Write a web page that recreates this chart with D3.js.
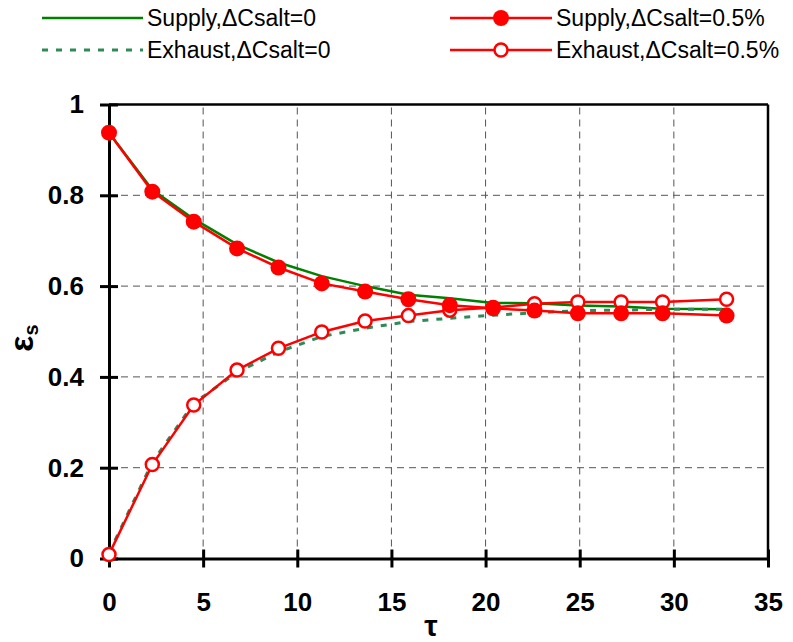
<!DOCTYPE html>
<html>
<head>
<meta charset="utf-8">
<script src="https://cdn.jsdelivr.net/npm/d3@7"></script>
<style>
  html, body { margin: 0; padding: 0; background: #fff; }
  svg { display: block; font-family: "Liberation Sans", Arial, sans-serif; }
</style>
</head>
<body>
<svg id="chart" width="793" height="642"></svg>
<script>
// Dimensionless time τ at each sample
const tau = [0, 2.3, 4.5, 6.8, 9.0, 11.3, 13.6, 15.9, 18.1, 20.4, 22.6, 24.9, 27.2, 29.4, 32.8];
// Sensible effectiveness εs for each case
const supply0   = [0.938, 0.812, 0.748, 0.692, 0.652, 0.622, 0.600, 0.581, 0.573, 0.563, 0.562, 0.557, 0.555, 0.550, 0.549];
const exhaust0  = [0.012, 0.212, 0.342, 0.410, 0.455, 0.489, 0.507, 0.522, 0.529, 0.536, 0.541, 0.546, 0.547, 0.549, 0.549];
const supply05  = [0.938, 0.808, 0.742, 0.683, 0.641, 0.606, 0.588, 0.571, 0.558, 0.551, 0.546, 0.540, 0.540, 0.540, 0.535];
const exhaust05 = [0.009, 0.207, 0.338, 0.415, 0.463, 0.499, 0.523, 0.535, 0.547, 0.553, 0.561, 0.565, 0.565, 0.565, 0.571];

const xTicks = [0, 5, 10, 15, 20, 25, 30, 35];
const yTicks = [0, 0.2, 0.4, 0.6, 0.8, 1];
const legendLabels = ["Supply,ΔCsalt=0", "Exhaust,ΔCsalt=0", "Supply,ΔCsalt=0.5%", "Exhaust,ΔCsalt=0.5%"];

const svg = d3.select("#chart");
const margin = { left: 109, right: 25, top: 104.5, bottom: 83.5 };
const W = 793, H = 642;
const x = d3.scaleLinear().domain([0, 35]).range([margin.left, W - margin.right]);
const y = d3.scaleLinear().domain([0, 1]).range([H - margin.bottom, margin.top]);

const RED = "#ff0000", GREEN = "#008000", DGREEN = "#2e8b57";

// dashed grid
const grid = svg.append("g");
grid.selectAll("line.v").data(xTicks.filter(t => t > 0 && t < 35)).join("line")
  .attr("x1", d => x(d)).attr("x2", d => x(d))
  .attr("y1", y(0)).attr("y2", y(1))
  .attr("stroke", "#555").attr("stroke-width", 1).attr("stroke-dasharray", "7,5");
grid.selectAll("line.h").data(yTicks.filter(t => t > 0 && t < 1)).join("line")
  .attr("x1", x(0)).attr("x2", x(35))
  .attr("y1", d => y(d)).attr("y2", d => y(d))
  .attr("stroke", "#555").attr("stroke-width", 1).attr("stroke-dasharray", "7,5");

// frame: top and right border
svg.append("line").attr("x1", x(0)).attr("x2", x(35)).attr("y1", y(1)).attr("y2", y(1))
  .attr("stroke", "#000").attr("stroke-width", 2.5);
svg.append("line").attr("x1", x(35)).attr("x2", x(35)).attr("y1", y(1)).attr("y2", y(0))
  .attr("stroke", "#000").attr("stroke-width", 2.5);

// axes
const xAxis = d3.axisBottom(x).tickValues(xTicks).tickFormat(d3.format("d")).tickSizeInner(9).tickSizeOuter(0).tickPadding(25);
const yAxis = d3.axisLeft(y).tickValues(yTicks).tickFormat(d => d === 0 || d === 1 ? String(d) : d3.format(".1f")(d)).tickSizeInner(9).tickSizeOuter(0).tickPadding(16);

const gx = svg.append("g").attr("transform", `translate(0,${y(0)})`).call(xAxis);
const gy = svg.append("g").attr("transform", `translate(${x(0)},0)`).call(yAxis);
[gx, gy].forEach(g => {
  g.select(".domain").attr("stroke", "#000").attr("stroke-width", 3);
  g.selectAll(".tick line").attr("stroke", "#000").attr("stroke-width", 3);
  g.selectAll(".tick text").attr("fill", "#000").attr("font-size", 26).attr("font-weight", "bold")
    .attr("font-family", "'Liberation Sans', Arial, sans-serif");
});
// ticks cross the axis line
gx.selectAll(".tick line").attr("y1", -9).attr("y2", 9);
gy.selectAll(".tick line").attr("x1", -9).attr("x2", 9);

// axis titles
svg.append("text").attr("x", 431).attr("y", 636).attr("text-anchor", "middle")
  .attr("font-size", 30).attr("font-weight", "bold").text("τ");
const yt = svg.append("text").attr("transform", "translate(33,338) rotate(-90)")
  .attr("text-anchor", "middle").attr("font-weight", "bold");
yt.append("tspan").attr("font-size", 34).text("ε");
yt.append("tspan").attr("font-size", 20).attr("dy", 5).text("s");

// series
const pts = vals => tau.map((t, i) => [t, vals[i]]);
const line = d3.line().x(d => x(d[0])).y(d => y(d[1]));

svg.append("path").attr("d", line(pts(supply0))).attr("fill", "none")
  .attr("stroke", GREEN).attr("stroke-width", 2.5);
svg.append("path").attr("d", line(pts(exhaust0))).attr("fill", "none")
  .attr("stroke", DGREEN).attr("stroke-width", 3).attr("stroke-dasharray", "6,8");

svg.append("path").attr("d", line(pts(exhaust05))).attr("fill", "none")
  .attr("stroke", RED).attr("stroke-width", 2.5);
svg.append("g").selectAll("circle").data(pts(exhaust05)).join("circle")
  .attr("cx", d => x(d[0])).attr("cy", d => y(d[1])).attr("r", 6.5)
  .attr("fill", "#fff").attr("stroke", RED).attr("stroke-width", 2.5);

svg.append("path").attr("d", line(pts(supply05))).attr("fill", "none")
  .attr("stroke", RED).attr("stroke-width", 2.5);
svg.append("g").selectAll("circle").data(pts(supply05)).join("circle")
  .attr("cx", d => x(d[0])).attr("cy", d => y(d[1])).attr("r", 8)
  .attr("fill", RED);

// legend
const legend = [
  { x0: 42,  x1: 143, ty: 18, label: legendLabels[0], stroke: GREEN,  dash: null,  w: 2.5, marker: null },
  { x0: 42,  x1: 143, ty: 50, label: legendLabels[1], stroke: DGREEN, dash: "6,8", w: 3,   marker: null },
  { x0: 450, x1: 552, ty: 18, label: legendLabels[2], stroke: RED,    dash: null,  w: 2.5, marker: "filled" },
  { x0: 450, x1: 552, ty: 50, label: legendLabels[3], stroke: RED,    dash: null,  w: 2.5, marker: "open" }
];
const lg = svg.append("g");
legend.forEach(e => {
  lg.append("line").attr("x1", e.x0).attr("x2", e.x1).attr("y1", e.ty).attr("y2", e.ty)
    .attr("stroke", e.stroke).attr("stroke-width", e.w).attr("stroke-dasharray", e.dash);
  const cx = (e.x0 + e.x1) / 2;
  if (e.marker === "filled") {
    lg.append("circle").attr("cx", cx).attr("cy", e.ty).attr("r", 8).attr("fill", RED);
  } else if (e.marker === "open") {
    lg.append("circle").attr("cx", cx).attr("cy", e.ty).attr("r", 6.5)
      .attr("fill", "#fff").attr("stroke", RED).attr("stroke-width", 2.5);
  }
  lg.append("text").attr("x", e.x1 + 4).attr("y", e.ty).attr("dy", "0.35em")
    .attr("font-size", 23).attr("fill", "#000").text(e.label);
});
</script>
</body>
</html>
